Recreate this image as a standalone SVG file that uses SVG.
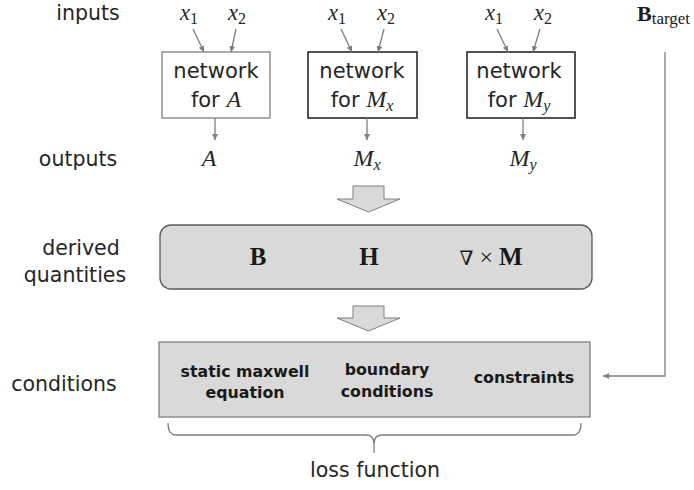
<svg xmlns="http://www.w3.org/2000/svg" width="694" height="490" viewBox="0 0 694 490">
<defs>
<marker id="ah" viewBox="0 0 10 10" refX="10" refY="5" markerWidth="6" markerHeight="6" markerUnits="userSpaceOnUse" orient="auto">
<path d="M0,0 L10,5 L0,10 z" fill="#7f7f7f"/>
</marker>
<style>
.lbl{font-family:"DejaVu Sans",sans-serif;font-size:20.5px;fill:#262626}
.net{font-family:"DejaVu Sans",sans-serif;font-size:21px;fill:#262626}
.math{font-family:"Liberation Serif",serif;font-style:italic;font-size:24px;fill:#262626}
.inp{font-family:"Liberation Serif",serif;font-style:italic;font-size:22.5px;fill:#262626}
.mi{font-family:"Liberation Serif",serif;font-style:italic;font-size:24px}
.ms{font-family:"Liberation Serif",serif;font-style:italic;font-size:16px}
.bold{font-family:"Liberation Serif",serif;font-weight:bold;font-size:25px;fill:#1a1a1a}
.cond{font-family:"DejaVu Sans",sans-serif;font-weight:bold;font-size:15.8px;fill:#1a1a1a}
.sub{font-size:16px}
.conn{stroke:#7f7f7f;stroke-width:1.3;fill:none}
.blk{fill:#d9d9d9;stroke:#7f7f7f;stroke-width:1}
</style>
</defs>

<g id="row-labels">
<text class="lbl" x="88" y="20" text-anchor="middle">inputs</text>
<text class="lbl" x="78" y="166" text-anchor="middle">outputs</text>
<text class="lbl" x="81" y="255" text-anchor="middle">derived</text>
<text class="lbl" x="75" y="282" text-anchor="middle">quantities</text>
<text class="lbl" x="64" y="391" text-anchor="middle">conditions</text>
</g>

<g id="inputs">
<text class="inp" x="180" y="20">x<tspan class="sub" font-style="normal" dy="4">1</tspan></text>
<text class="inp" x="228" y="20">x<tspan class="sub" font-style="normal" dy="4">2</tspan></text>
<text class="inp" x="328" y="20">x<tspan class="sub" font-style="normal" dy="4">1</tspan></text>
<text class="inp" x="377" y="20">x<tspan class="sub" font-style="normal" dy="4">2</tspan></text>
<text class="inp" x="485" y="20">x<tspan class="sub" font-style="normal" dy="4">1</tspan></text>
<text class="inp" x="534" y="20">x<tspan class="sub" font-style="normal" dy="4">2</tspan></text>
</g>

<g id="btarget">
<text font-family="Liberation Serif, serif" font-weight="bold" font-size="22" fill="#1a1a1a" x="637" y="21">B<tspan font-weight="normal" font-size="17" dy="3">target</tspan></text>
</g>

<g id="net-A">
<rect x="162" y="52" width="108" height="66" fill="#fff" stroke="#808080" stroke-width="1.3"/>
<text class="net" x="216" y="78" text-anchor="middle">network</text>
<text class="net" x="216" y="107" text-anchor="middle">for <tspan class="mi">A</tspan></text>
</g>

<g id="net-Mx">
<rect x="308" y="52" width="109" height="66" fill="#fff" stroke="#1a1a1a" stroke-width="1.5"/>
<text class="net" x="362" y="78" text-anchor="middle">network</text>
<text class="net" x="362" y="107" text-anchor="middle">for <tspan class="mi">M</tspan><tspan class="ms" dy="4">x</tspan></text>
</g>

<g id="net-My">
<rect x="467" y="52" width="108" height="66" fill="#fff" stroke="#1a1a1a" stroke-width="1.5"/>
<text class="net" x="519" y="78" text-anchor="middle">network</text>
<text class="net" x="519" y="107" text-anchor="middle">for <tspan class="mi">M</tspan><tspan class="ms" dy="4">y</tspan></text>
</g>

<g id="outputs">
<text class="math" x="209" y="166" text-anchor="middle">A</text>
<text class="math" x="367" y="166" text-anchor="middle">M<tspan class="sub" dy="4">x</tspan></text>
<text class="math" x="523" y="166" text-anchor="middle">M<tspan class="sub" dy="4">y</tspan></text>
</g>

<g id="derived">
<rect x="160" y="225" width="432" height="64" rx="11" ry="11" fill="#d9d9d9" stroke="#595959" stroke-width="1.3"/>
<text class="bold" x="258" y="265" text-anchor="middle">B</text>
<text class="bold" x="369" y="265" text-anchor="middle">H</text>
<text x="491" y="265" text-anchor="middle" font-family="Liberation Serif, serif" font-size="24" fill="#1a1a1a"><tspan font-family="DejaVu Serif, serif" font-size="20">∇</tspan> × <tspan font-weight="bold" font-size="25">M</tspan></text>
</g>

<g id="conditions">
<rect x="159" y="342" width="431" height="75" fill="#d9d9d9" stroke="#7f7f7f" stroke-width="1.3"/>
<text class="cond" x="245" y="377" text-anchor="middle">static maxwell</text>
<text class="cond" x="245" y="398" text-anchor="middle">equation</text>
<text class="cond" x="387" y="375" text-anchor="middle">boundary</text>
<text class="cond" x="387" y="397" text-anchor="middle">conditions</text>
<text class="cond" x="524" y="383" text-anchor="middle">constraints</text>
</g>

<g id="loss">
<path d="M168,423 Q168,435 176,435 L366,435 Q374,435 374,444 L374,453 M374,444 Q374,435 382,435 L573,435 Q581,435 581,423" fill="none" stroke="#7f7f7f" stroke-width="1.3"/>
<text class="lbl" x="375" y="477" text-anchor="middle" font-size="22">loss function</text>
</g>

<g id="connectors">
<line class="conn" x1="193" y1="29" x2="204" y2="52" marker-end="url(#ah)"/>
<line class="conn" x1="236" y1="29" x2="231" y2="52" marker-end="url(#ah)"/>
<line class="conn" x1="341" y1="29" x2="352" y2="52" marker-end="url(#ah)"/>
<line class="conn" x1="384" y1="29" x2="378" y2="52" marker-end="url(#ah)"/>
<line class="conn" x1="497" y1="29" x2="508" y2="52" marker-end="url(#ah)"/>
<line class="conn" x1="540" y1="29" x2="533" y2="52" marker-end="url(#ah)"/>
<line class="conn" x1="215" y1="118" x2="215" y2="140" marker-end="url(#ah)"/>
<line class="conn" x1="367" y1="118" x2="367" y2="140" marker-end="url(#ah)"/>
<line class="conn" x1="523" y1="118" x2="523" y2="140" marker-end="url(#ah)"/>
<polyline class="conn" points="665,52 665,376 603,376" marker-end="url(#ah)"/>
<path class="blk" d="M353,186 L384,186 L384,199 L400,199 L368.5,212 L337,199 L353,199 z"/>
<path class="blk" d="M353,306 L384,306 L384,318 L400,318 L368.5,331 L337,318 L353,318 z"/>
</g>
</svg>
